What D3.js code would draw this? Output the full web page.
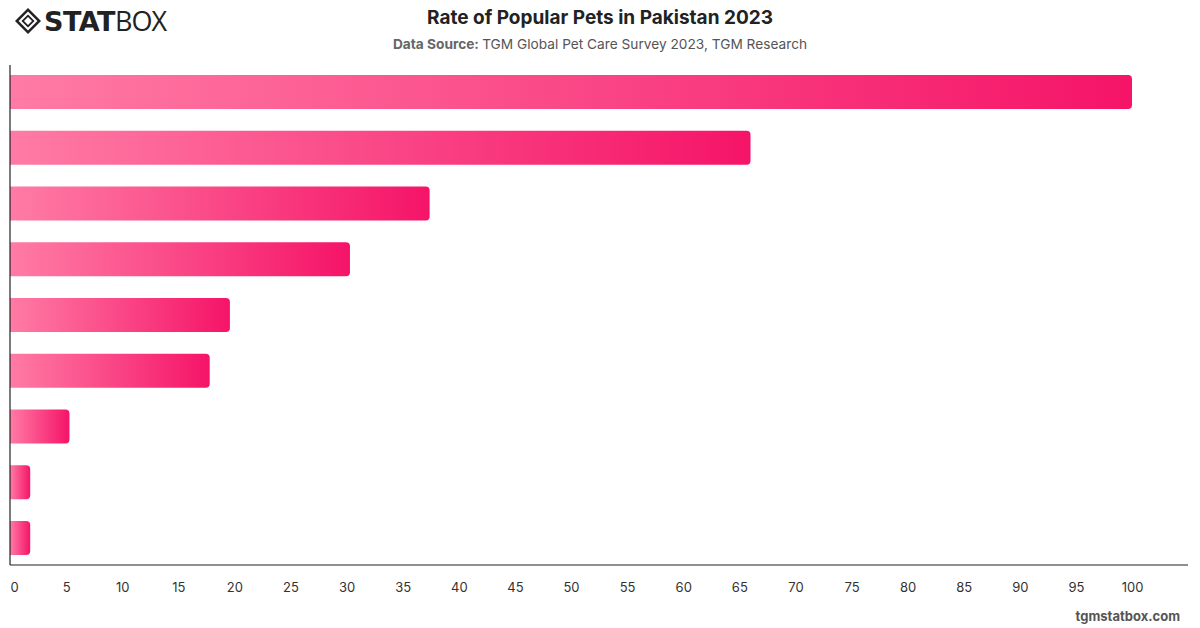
<!DOCTYPE html>
<html>
<head>
<meta charset="utf-8">
<script src="https://cdn.jsdelivr.net/npm/d3@7"></script>
<style>
  body { margin: 0; background: #fff; }
  svg { display: block; font-family: Inter, "Open Sans", sans-serif; }
</style>
</head>
<body>
<div id="chart"></div>
<script>
const WIDTH = 1200;
const HEIGHT = 628;

// data
const categories = ["Dogs", "Cats", "Birds", "Fish", "Rabbits", "Small mammals", "Reptiles", "Horses", "Other"];
const values = [100, 66, 37.4, 30.3, 19.6, 17.8, 5.3, 1.8, 1.8];
const xTicks = [0, 5, 10, 15, 20, 25, 30, 35, 40, 45, 50, 55, 60, 65, 70, 75, 80, 85, 90, 95, 100];

const margin = { top: 65, right: 12, bottom: 63, left: 10 };

const svg = d3.select("#chart").append("svg")
    .attr("width", WIDTH)
    .attr("height", HEIGHT);

// gradient for the bars
const grad = svg.append("defs").append("linearGradient")
    .attr("id", "barGrad")
    .attr("x1", "0%").attr("x2", "100%")
    .attr("y1", "0%").attr("y2", "0%");
grad.append("stop").attr("offset", "0%").attr("stop-color", "#ff7ba5");
grad.append("stop").attr("offset", "100%").attr("stop-color", "#f51468");

// scales
const x = d3.scaleLinear().domain([0, 100]).range([margin.left, margin.left + 1122]);
const y = d3.scaleBand()
    .domain(categories)
    .range([margin.top, HEIGHT - margin.bottom])
    .paddingInner(0.39)
    .paddingOuter(0.18);

// bars with rounded right end
const r = 4;
svg.append("g").selectAll("path")
    .data(categories)
    .enter()
    .append("path")
    .attr("fill", "url(#barGrad)")
    .attr("d", (d, i) => {
        const x0 = x(0), x1 = x(values[i]);
        const y0 = y(d), h = y.bandwidth();
        const rr = Math.min(r, (x1 - x0) / 2);
        return `M${x0},${y0}H${x1 - rr}Q${x1},${y0} ${x1},${y0 + rr}V${y0 + h - rr}Q${x1},${y0 + h} ${x1 - rr},${y0 + h}H${x0}Z`;
    });

// axes
const yAxis = svg.append("g")
    .attr("transform", `translate(${margin.left},0)`)
    .call(d3.axisLeft(y).tickSize(0).tickFormat(""));
yAxis.select(".domain").attr("stroke", "#222").attr("stroke-width", 1.2)
    .attr("d", `M0,${margin.top}V${HEIGHT - margin.bottom}`);

const xAxis = svg.append("g")
    .attr("transform", `translate(0,${HEIGHT - margin.bottom})`)
    .call(d3.axisBottom(x).tickValues(xTicks).tickSize(0).tickPadding(18));
xAxis.select(".domain").attr("stroke", "#222").attr("stroke-width", 1.2)
    .attr("d", `M${margin.left},0H${WIDTH - margin.right}`);
xAxis.selectAll("text")
    .attr("font-family", "Inter, sans-serif")
    .attr("font-size", 13)
    .attr("fill", "#333");
xAxis.selectAll(".tick").filter(d => d === 0).select("text").attr("dx", 4);

// title
svg.append("text")
    .attr("x", 600).attr("y", 24)
    .attr("text-anchor", "middle")
    .attr("font-size", 19)
    .attr("font-weight", 700)
    .attr("fill", "#222")
    .text("Rate of Popular Pets in Pakistan 2023");

const sub = svg.append("text")
    .attr("x", 600).attr("y", 49)
    .attr("text-anchor", "middle")
    .attr("font-size", 13.7)
    .attr("fill", "#555");
sub.append("tspan").attr("font-weight", 700).attr("fill", "#666").text("Data Source: ");
sub.append("tspan").text("TGM Global Pet Care Survey 2023, TGM Research");

// logo
const logo = svg.append("g").attr("transform", "translate(28,21)");
logo.append("path")
    .attr("d", "M0,-13L13,0L0,13L-13,0Z")
    .attr("fill", "#222");
logo.append("path")
    .attr("d", "M0,-8L8,0L0,8L-8,0Z")
    .attr("fill", "none")
    .attr("stroke", "#fff")
    .attr("stroke-width", 2);
logo.append("path")
    .attr("d", "M0,-4L4,0L0,4L-4,0Z")
    .attr("fill", "#fff");
const logoText = svg.append("text")
    .attr("x", 44).attr("y", 31)
    .attr("font-size", 27)
    .attr("fill", "#222");
logoText.append("tspan")
    .attr("font-family", "'DejaVu Sans', sans-serif")
    .attr("font-weight", 900)
    .attr("letter-spacing", -0.5)
    .text("STAT");
logoText.append("tspan")
    .attr("font-family", "'Open Sans', sans-serif")
    .attr("font-weight", 400)
    .attr("letter-spacing", -1)
    .text("BOX");

// footer
svg.append("text")
    .attr("x", 1180).attr("y", 621)
    .attr("text-anchor", "end")
    .attr("font-size", 13)
    .attr("font-weight", 700)
    .attr("fill", "#555")
    .text("tgmstatbox.com");
</script>
</body>
</html>
